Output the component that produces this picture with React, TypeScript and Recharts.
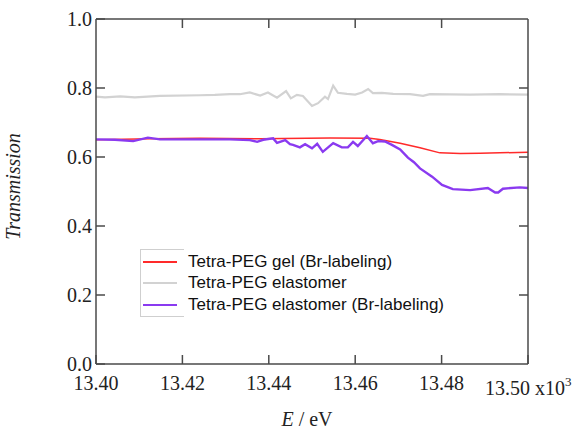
import React from "react";
import { Legend, Line, LineChart, XAxis, YAxis } from "recharts";

// energies in units of 10^3 eV
const gelBrE = [13.4, 13.4125, 13.4241, 13.438, 13.4542, 13.4634, 13.4657, 13.4704, 13.475, 13.4796, 13.4843, 13.4889, 13.4935, 13.5];
const gelBrT = [0.65, 0.653, 0.654, 0.653, 0.655, 0.654, 0.651, 0.64, 0.627, 0.612, 0.61, 0.611, 0.612, 0.614];

const elasE = [
  13.4, 13.4021, 13.4056, 13.409, 13.4148, 13.4241, 13.4275, 13.431, 13.4333, 13.4356, 13.438, 13.4398,
  13.4419, 13.444, 13.4451, 13.4465, 13.4479, 13.45, 13.4514, 13.453, 13.4537, 13.4549, 13.456, 13.4581,
  13.46, 13.4616, 13.463, 13.4641, 13.4662, 13.4688, 13.4727, 13.4757, 13.4773, 13.4866, 13.4935, 13.5,
];
const elasT = [
  0.775, 0.773, 0.776, 0.773, 0.777, 0.779, 0.78, 0.782, 0.782, 0.787, 0.778, 0.787,
  0.772, 0.791, 0.77, 0.78, 0.777, 0.748, 0.756, 0.775, 0.768, 0.807, 0.786, 0.783,
  0.781, 0.787, 0.797, 0.785, 0.786, 0.783, 0.782, 0.777, 0.782, 0.781, 0.782, 0.781,
];

const elasBrE = [
  13.4, 13.4044, 13.4086, 13.412, 13.4148, 13.4241, 13.431, 13.4356, 13.4373, 13.4387, 13.441, 13.4419,
  13.4438, 13.4449, 13.4456, 13.4472, 13.4484, 13.45, 13.4512, 13.4525, 13.4549, 13.4569, 13.4583, 13.4595,
  13.4606, 13.4627, 13.4641, 13.4653, 13.4669, 13.4685, 13.4704, 13.4722, 13.4736, 13.475, 13.4778, 13.4801,
  13.4826, 13.4866, 13.4907, 13.4924, 13.4931, 13.4942, 13.4981, 13.5,
];
const elasBrT = [
  0.651, 0.65, 0.646, 0.656, 0.651, 0.651, 0.651, 0.649, 0.644, 0.65, 0.654, 0.641,
  0.649, 0.637, 0.635, 0.628, 0.637, 0.625, 0.638, 0.615, 0.64, 0.628, 0.628, 0.644,
  0.632, 0.661, 0.64, 0.646, 0.645, 0.635, 0.622, 0.598, 0.585, 0.567, 0.543, 0.519,
  0.507, 0.504, 0.51, 0.497, 0.497, 0.508, 0.512, 0.51,
];

const seriesNames = ["Tetra-PEG gel (Br-labeling)", "Tetra-PEG elastomer", "Tetra-PEG elastomer (Br-labeling)"];
const seriesColors = ["#ff2a2a", "#d2d2d2", "#8a3af0"];

const xTicks = [13.4, 13.42, 13.44, 13.46, 13.48, 13.5];
const xTicksInner = [13.42, 13.44, 13.46, 13.48];
const yTicks = [0, 0.2, 0.4, 0.6, 0.8, 1.0];
const yTicksInner = [0.2, 0.4, 0.6, 0.8];

const toRows = (e: number[], t: number[]) => e.map((v, i) => ({ e: v, t: t[i] }));
const gelBr = toRows(gelBrE, gelBrT);
const elas = toRows(elasE, elasT);
const elasBr = toRows(elasBrE, elasBrT);

const serif = '"Liberation Serif", "Times New Roman", serif';
const frame = "#4a4a4a";

function XTick(props: any) {
  const { x, y, payload } = props;
  if (payload.value >= 13.499) {
    return (
      <text x={x - 43} y={y + 31} fontFamily={serif} fontSize={20} fill="#222">
        13.50 x10
        <tspan dy={-9} fontSize={13}>3</tspan>
      </text>
    );
  }
  return (
    <text x={x} y={y + 26} textAnchor="middle" fontFamily={serif} fontSize={20} fill="#222">
      {payload.value.toFixed(2)}
    </text>
  );
}

function YTick(props: any) {
  const { x, y, payload } = props;
  return (
    <text x={x - 4} y={y + 6.5} textAnchor="end" fontFamily={serif} fontSize={20} fill="#222">
      {payload.value.toFixed(1)}
    </text>
  );
}

const noTick = () => <g />;

// legend drawn in the reference's order, not recharts' sorted order
function LegendBox() {
  return (
    <div style={{ position: "relative", width: 330, height: 67 }}>
      <div
        style={{
          position: "absolute",
          left: 0,
          top: 0,
          width: 43,
          height: 66,
          borderLeft: "1px solid #cfcfcf",
          borderTop: "1px solid #cfcfcf",
          borderBottom: "1px solid #cfcfcf",
        }}
      />
      {seriesNames.map((name, i) => (
        <div
          key={name}
          style={{ position: "absolute", left: 0, top: 2 + i * 21.5, height: 21, display: "flex", alignItems: "center" }}
        >
          <div style={{ width: 34, height: 2, marginLeft: 3, background: seriesColors[i] }} />
          <span
            style={{
              marginLeft: 11,
              fontFamily: '"Liberation Sans", Arial, sans-serif',
              fontSize: 17,
              color: "#111",
              whiteSpace: "nowrap",
            }}
          >
            {name}
          </span>
        </div>
      ))}
    </div>
  );
}

const axisLine = { stroke: frame, strokeWidth: 1.5 };

export default function App() {
  return (
    <div style={{ position: "absolute", left: 0, top: 0, width: 572, height: 430, background: "#fff" }}>
      <LineChart width={572} height={430} margin={{ top: 18, right: 43, bottom: 36, left: 36 }}>
        <XAxis
          xAxisId="b"
          type="number"
          dataKey="e"
          domain={[13.4, 13.5]}
          ticks={xTicks}
          allowDataOverflow
          height={30}
          tickSize={-9}
          tickMargin={9}
          tick={<XTick />}
          axisLine={axisLine}
          tickLine={axisLine}
          label={{
            content: (p: any) => {
              const vb = p.viewBox;
              return (
                <text x={vb.x + vb.width / 2 - 5} y={vb.y + 62} textAnchor="middle" fontFamily={serif} fontSize={20} fill="#222">
                  <tspan fontStyle="italic">E</tspan> / eV
                </text>
              );
            },
          }}
        />
        <XAxis
          xAxisId="t"
          orientation="top"
          type="number"
          dataKey="e"
          domain={[13.4, 13.5]}
          ticks={xTicksInner}
          allowDataOverflow
          height={1}
          tickSize={-9}
          tick={noTick}
          axisLine={axisLine}
          tickLine={axisLine}
        />
        <YAxis
          yAxisId="l"
          type="number"
          domain={[0, 1]}
          ticks={yTicks}
          allowDataOverflow
          width={60}
          tickSize={-9}
          tickMargin={9}
          tick={<YTick />}
          axisLine={axisLine}
          tickLine={axisLine}
          label={{
            content: (p: any) => {
              const vb = p.viewBox;
              const cx = vb.x - 16;
              const cy = vb.y + vb.height / 2 - 5;
              return (
                <text
                  x={cx}
                  y={cy}
                  transform={`rotate(-90 ${cx} ${cy})`}
                  textAnchor="middle"
                  fontFamily={serif}
                  fontStyle="italic"
                  fontSize={20}
                  fill="#222"
                >
                  Transmission
                </text>
              );
            },
          }}
        />
        <YAxis
          yAxisId="r"
          orientation="right"
          type="number"
          domain={[0, 1]}
          ticks={yTicksInner}
          allowDataOverflow
          width={1}
          tickSize={-9}
          tick={noTick}
          axisLine={axisLine}
          tickLine={axisLine}
        />
        <Legend
          layout="vertical"
          align="center"
          verticalAlign="middle"
          wrapperStyle={{ left: 140, top: 249, width: 330 }}
          content={<LegendBox />}
        />
        {/* invisible copy so the mirrored top/right axes get drawn */}
        <Line
          xAxisId="t"
          yAxisId="r"
          data={elas}
          dataKey="t"
          stroke="none"
          dot={false}
          legendType="none"
          isAnimationActive={false}
        />
        <Line
          xAxisId="b"
          yAxisId="l"
          data={elas}
          dataKey="t"
          name={seriesNames[1]}
          stroke={seriesColors[1]}
          strokeWidth={2.2}
          dot={false}
          isAnimationActive={false}
        />
        <Line
          xAxisId="b"
          yAxisId="l"
          data={gelBr}
          dataKey="t"
          name={seriesNames[0]}
          stroke={seriesColors[0]}
          strokeWidth={1.5}
          dot={false}
          isAnimationActive={false}
        />
        <Line
          xAxisId="b"
          yAxisId="l"
          data={elasBr}
          dataKey="t"
          name={seriesNames[2]}
          stroke={seriesColors[2]}
          strokeWidth={2.4}
          dot={false}
          isAnimationActive={false}
        />
      </LineChart>
    </div>
  );
}
